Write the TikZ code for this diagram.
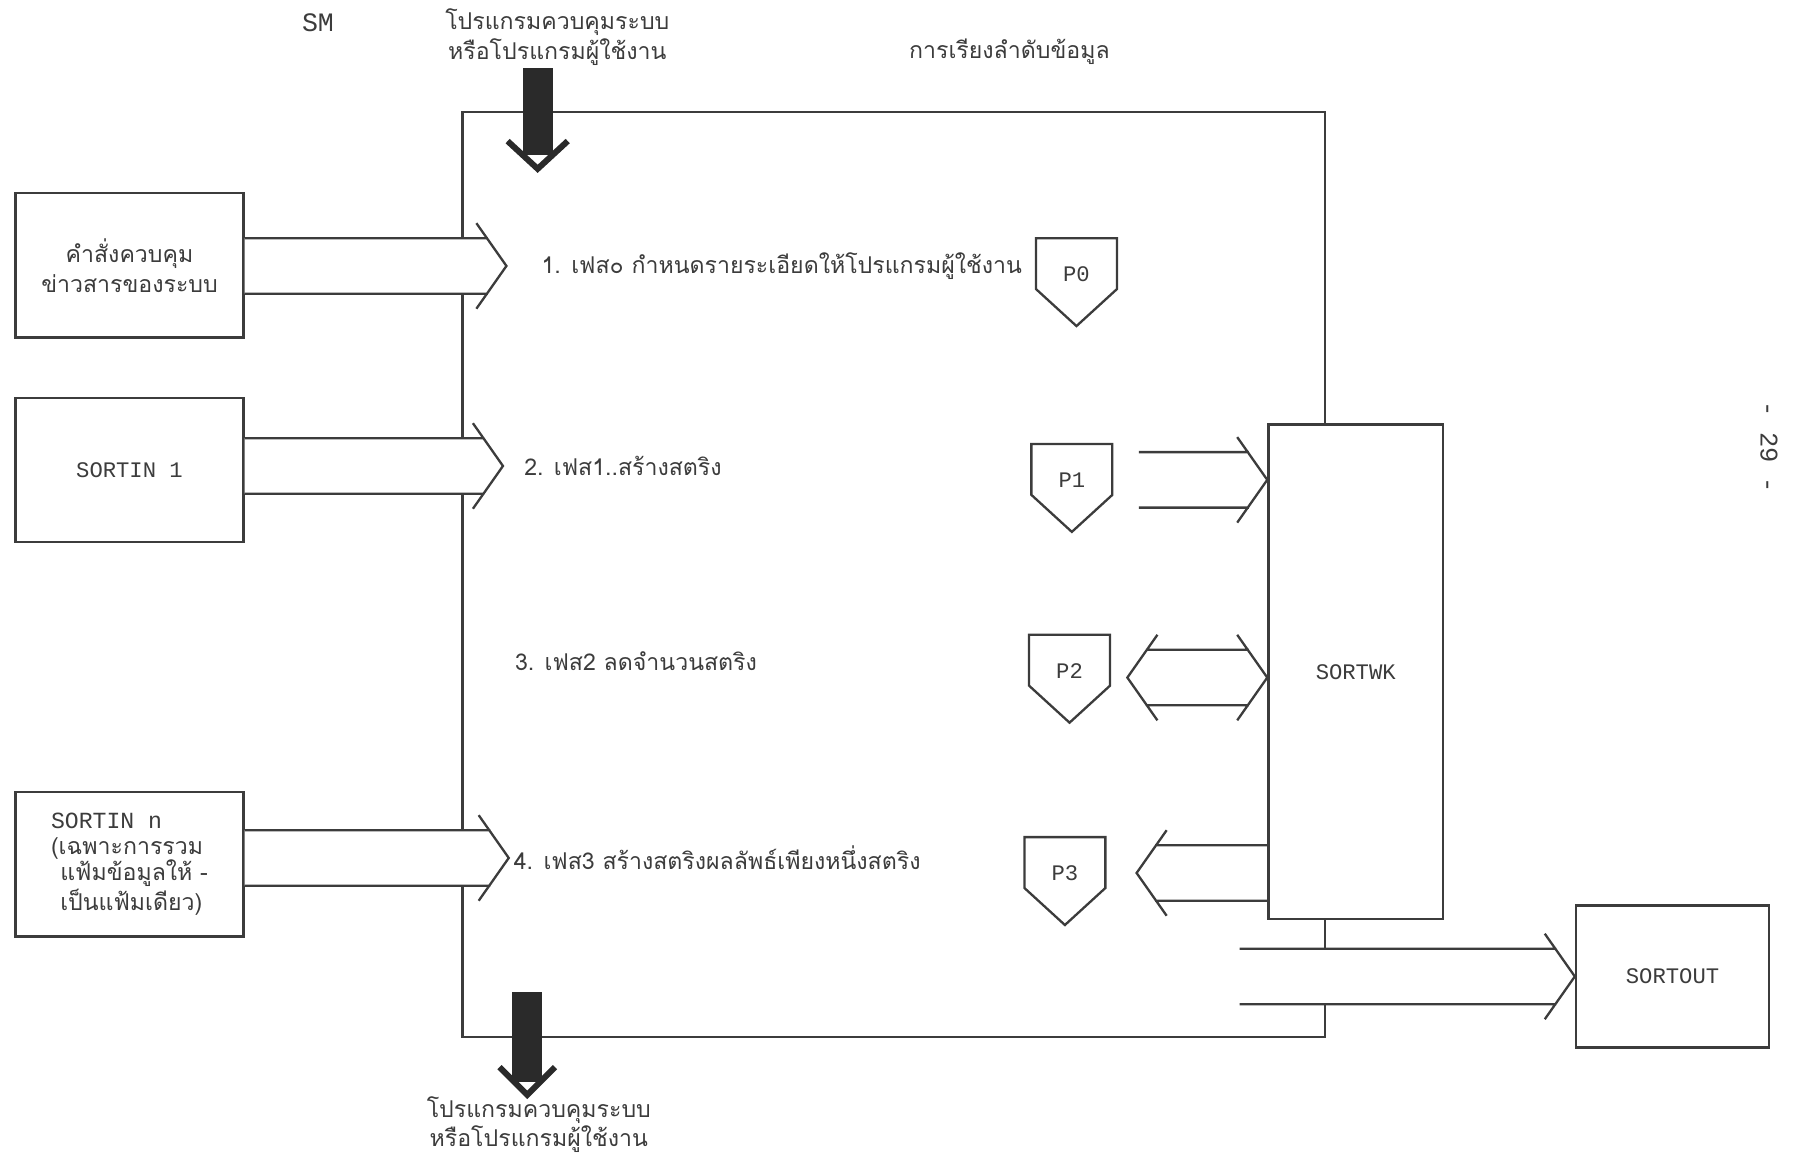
\documentclass[tikz,border=0pt]{standalone}
\usepackage{fontspec}
\setmainfont{Liberation Mono}
\newfontfamily\thaifont[Script=Thai]{Loma}
\usepackage{tikz}
\usetikzlibrary{positioning, calc}
\definecolor{inkc}{HTML}{3C3C3C}
\definecolor{inkdark}{HTML}{2A2A2A}

\begin{document}
\begin{tikzpicture}[x=0.5pt, y=-0.5pt,
        % frame of the sort program
        frame/.style={
            rectangle,
            draw=inkc,
            line width=1pt,
            minimum width=373pt,
            minimum height=400pt,
            inner sep=0pt
        },
        % data set boxes
        ext/.style={
            rectangle,
            draw=inkc,
            fill=white,
            line width=1pt,
            minimum width=98.5pt,
            minimum height=62.5pt
        },
        % plain texts
        thai/.style={font=\thaifont\fontsize{10}{13}\selectfont, text=inkc, inner sep=1pt},
        mono/.style={font=\fontsize{9.6}{12}\selectfont, text=inkc, inner sep=1pt},
        % phase symbols and wide arrows
        pen/.style={draw=inkc, line width=1pt, fill=white},
        band/.style={draw=inkc, line width=1pt},
        % heavy arrows in and out of SM
        heavy/.style={draw=inkdark, line width=13pt},
        heavytip/.style={draw=inkdark, line width=2.6pt}
    ]
    \useasboundingbox (0,0) rectangle (1568,1002);

    % ================= frame and titles =================
    \node[frame] (sm) at (773,497) {};
    \node[mono, font=\fontsize{11.5}{14}\selectfont] (smlbl) at (275,20) {SM};
    \node[thai, align=center] (toplbl) at (482,32) {โปรแกรมควบคุมระบบ\\หรือโปรแกรมผู้ใช้งาน};
    \node[thai] (title) at (873,45) {การเรียงลำดับข้อมูล};
    \node[mono, font=\fontsize{11}{13}\selectfont, rotate=-90] (pg) at (1530,387) {- 29 -};

    % ================= input boxes =================
    \node[ext, thai, align=center] (ctrl) at (112,229.5) {คำสั่งควบคุม\\ข่าวสารของระบบ};
    \node[ext, mono, below=25pt of ctrl] (sin1) {SORTIN 1};
    \node[ext, thai, align=left, font=\thaifont\fontsize{10}{11.3}\selectfont, below=107pt of sin1] (sinn)
        {{\rmfamily SORTIN n}\\(เฉพาะการรวม\\\hspace*{4pt}แฟ้มข้อมูลให้ -\\\hspace*{4pt}เป็นแฟ้มเดียว)};

    % ================= phases =================
    \coordinate (t1) at (438,230);
    \coordinate (t2) at (435,403);
    \coordinate (t3) at (440,742);
    \node[thai, right=14pt of t1] (ph1) {1. เฟส๐ กำหนดรายระเอียดให้โปรแกรมผู้ใช้งาน};
    \node[thai, right=8pt of t2] (ph2) {2. เฟส1..สร้างสตริง};
    \node[thai, anchor=west] (ph3) at (443,572) {3. เฟส2 ลดจำนวนสตริง};
    \node[thai, right=1pt of t3] (ph4) {4. เฟส3 สร้างสตริงผลลัพธ์เพียงหนึ่งสตริง};

    \foreach \i/\px/\py in {0/931/237, 1/927/415, 2/925/580, 3/921/755}{
        \draw[pen] (\px,\py) ++(-35,-31) -- ++(70,0) -- ++(0,44) -- ++(-35,32) -- ++(-35,-32) -- cycle;
        \node[mono] (p\i) at (\px,\py) {P\i};
    }

    % ================= work and output files =================
    \node[ext, mono, minimum width=75.5pt, minimum height=214pt] (sortwk) at (1172.5,581) {SORTWK};
    \node[ext, mono, minimum width=83.5pt, minimum height=61.5pt] (sortout) at (1446.5,844.5) {SORTOUT};

    % ================= wide arrows =================
    \coordinate (o1) at ($(p1)+(58,0)$);
    \coordinate (w1) at (sortwk.west |- p1);
    \coordinate (o4) at ($(sortout.west)+(-290,0)$);
    \foreach \s/\t in {ctrl.east/t1, sin1.east/t2, sinn.east/t3, o1/w1, o4/sortout.west}{
        \fill[white] let \p1=(\s), \p2=(\t) in
            (\x1,\y2+12pt) -- (\x2-8pt,\y2+12pt) -- (\x2,\y2) -- (\x2-8pt,\y2-12pt) -- (\x1,\y2-12pt) -- cycle;
        \draw[band] let \p1=(\s), \p2=(\t) in
            (\x1,\y2+12pt) -- (\x2-8pt,\y2+12pt)
            (\x1,\y2-12pt) -- (\x2-8pt,\y2-12pt)
            (\x2-13pt,\y2+18.5pt) -- (\x2,\y2) -- (\x2-13pt,\y2-18.5pt);
    }

    % P3 reads back from SORTWK
    \coordinate (w3) at (sortwk.west |- p3);
    \coordinate (q3) at ($(p3)+(62,0)$);
    \draw[band] let \p1=(w3), \p2=(q3) in
        (\x1,\y2+12pt) -- (\x2+8pt,\y2+12pt)
        (\x1,\y2-12pt) -- (\x2+8pt,\y2-12pt)
        (\x2+13pt,\y2+18.5pt) -- (\x2,\y2) -- (\x2+13pt,\y2-18.5pt);

    % P2 both ways
    \coordinate (q2) at ($(p2)+(50,6)$);
    \coordinate (w2) at ($(sortwk.west |- p2)+(0,6)$);
    \draw[band] let \p1=(q2), \p2=(w2) in
        (\x1+8pt,\y2+12pt) -- (\x2-8pt,\y2+12pt)
        (\x1+8pt,\y2-12pt) -- (\x2-8pt,\y2-12pt)
        (\x1+13pt,\y2+18.5pt) -- (\x1,\y2) -- (\x1+13pt,\y2-18.5pt)
        (\x2-13pt,\y2+18.5pt) -- (\x2,\y2) -- (\x2-13pt,\y2-18.5pt);

    % ================= heavy arrows =================
    \coordinate (intop) at (465,146);
    \draw[heavy] (toplbl.south -| intop) -- ($(intop)+(0,-12)$);
    \draw[heavytip] ($(intop)+(-26,-24)$) -- (intop) -- ($(intop)+(26,-24)$);

    \coordinate (inbot) at (456,858);
    \node[thai, align=center, font=\thaifont\fontsize{10}{12.5}\selectfont] (botlbl) at (466,973) {โปรแกรมควบคุมระบบ\\หรือโปรแกรมผู้ใช้งาน};
    \draw[heavy] (inbot) -- ($(inbot)+(0,78)$);
    \draw[heavytip] ($(inbot)+(-24,65)$) -- ($(inbot)+(0,89)$) -- ($(inbot)+(24,65)$);

\end{tikzpicture}
\end{document}
